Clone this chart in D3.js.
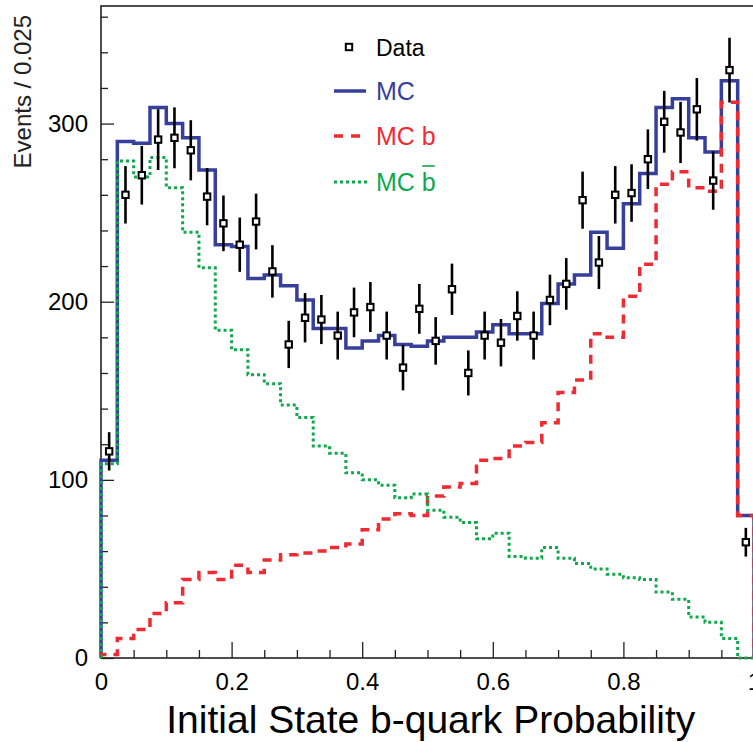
<!DOCTYPE html>
<html>
<head>
<meta charset="utf-8">
<script src="https://cdn.jsdelivr.net/npm/d3@7"></script>
<style>
  body { margin: 0; background: #fff; }
  svg { display: block; font-family: "Liberation Sans", Arial, Helvetica, sans-serif; }
</style>
</head>
<body>
<div id="chart-area"></div>
<script>
// DATA - 40 bins of 0.025 in initial state b-quark probability

const binWidth = 0.025
const binLow = d3.range(40).map(i => +(i * binWidth).toFixed(3))

const dataCounts = [116, 260, 271, 291, 292, 285, 259, 244, 232, 245,
                    217, 176, 191, 190, 181, 194, 197, 181, 163, 196,
                    178, 207, 160, 181, 177, 192, 181, 201, 210, 257,
                    222, 260, 261, 280, 301, 295, 308, 268, 330, 65]

const mcTotal = [111, 290, 289, 309, 300, 292, 274, 232, 231, 213,
                 215, 209, 201, 185, 185, 174, 178, 181, 176, 175,
                 178, 180, 180, 183, 187, 182, 182, 199, 210, 215,
                 239, 230, 255, 272, 309, 314, 292, 284, 324, 80]

const mcB = [2, 11, 16, 25, 31, 44, 48, 44, 52, 48,
             55, 58, 59, 60, 62, 64, 72, 78, 81, 80,
             91, 96, 98, 111, 112, 119, 121, 132, 149, 156,
             182, 180, 203, 221, 266, 273, 264, 262, 312, 80]

const mcBbar = [109, 279, 270, 281, 264, 239, 219, 184, 173, 159,
                154, 142, 135, 119, 115, 104, 100, 97, 90, 92,
                83, 79, 76, 67, 70, 57, 56, 62, 56, 53,
                50, 47, 45, 44, 37, 33, 23, 20, 11, 0]

const xTicks = [0, 0.2, 0.4, 0.6, 0.8, 1]
const xTickLabels = ["0", "0.2", "0.4", "0.6", "0.8", "1"]
const yTicks = [0, 100, 200, 300]

const legendLabels = ["Data", "MC", "MC b", "MC b"]

// CHART AREA

const margin = { left: 101, top: 6 }
const width = 653
const height = 652

const blue = "#373f9c"
const red = "#ee2b33"
const green = "#10a84c"

const svg = d3.select("#chart-area")
  .append("svg")
    .attr("width", 753)
    .attr("height", 742)

const chart = svg.append("g")
    .attr("transform", "translate(" + margin.left + ", " + margin.top + ")")

const x = d3.scaleLinear().domain([0, 1]).range([0, width])
const y = d3.scaleLinear().domain([0, 366]).range([height, 0])

// AXES (ticks point inward, ROOT style)

const xMajor = d3.axisBottom(x)
  .tickValues(xTicks)
  .tickFormat((d, i) => xTickLabels[i])
  .tickSize(-16)
  .tickPadding(15)
  .tickSizeOuter(0)
const xMinor = d3.axisBottom(x)
  .tickValues(d3.range(0.05, 1, 0.05).filter(v => Math.abs(v / 0.2 - Math.round(v / 0.2)) > 1e-6))
  .tickFormat("")
  .tickSize(-8)
  .tickSizeOuter(0)

const yMajor = d3.axisLeft(y)
  .tickValues(yTicks)
  .tickSize(-13)
  .tickPadding(13)
  .tickSizeOuter(0)
const yMinor = d3.axisLeft(y)
  .tickValues(d3.range(20, 361, 20).filter(v => v % 100 !== 0))
  .tickFormat("")
  .tickSize(-7)
  .tickSizeOuter(0)

const gx = chart.append("g").attr("class", "x-axis").attr("transform", "translate(0, " + height + ")")
gx.call(xMinor)
gx.append("g").call(xMajor)
const gy = chart.append("g").attr("class", "y-axis")
gy.call(yMinor)
gy.append("g").call(yMajor)

chart.selectAll(".domain").remove()
chart.selectAll(".tick line").attr("stroke", "#222").attr("stroke-width", 1.3)
chart.selectAll(".tick text")
  .attr("font-size", "24px")
  .attr("font-family", "'Liberation Sans', Arial, sans-serif")
  .attr("fill", "#000")

// frame
chart.append("rect")
  .attr("x", 0).attr("y", 0)
  .attr("width", width).attr("height", height)
  .attr("fill", "none")
  .attr("stroke", "#222")
  .attr("stroke-width", 1.6)

// axis titles
svg.append("text")
  .attr("transform", "translate(31, 15) rotate(-90)")
  .attr("text-anchor", "end")
  .attr("font-size", "24px")
  .attr("fill", "#222")
  .text("Events / 0.025")

svg.append("text")
  .attr("x", margin.left + x(0.505))
  .attr("y", 733)
  .attr("text-anchor", "middle")
  .attr("font-size", "39px")
  .attr("fill", "#000")
  .text("Initial State b-quark Probability")

// HISTOGRAMS

function stepPoints(vals) {
  const pts = [[0, 0]]
  vals.forEach((v, i) => {
    pts.push([binLow[i], v])
    pts.push([binLow[i] + binWidth, v])
  })
  pts.push([1, 0])
  return pts
}

const line = d3.line().x(d => x(d[0])).y(d => y(d[1]))

chart.append("path")
  .attr("d", line(stepPoints(mcTotal)))
  .attr("fill", "none")
  .attr("stroke", blue)
  .attr("stroke-width", 3.5)

chart.append("path")
  .attr("d", line(stepPoints(mcB)))
  .attr("fill", "none")
  .attr("stroke", red)
  .attr("stroke-width", 3.5)
  .attr("stroke-dasharray", "9,7")

chart.append("path")
  .attr("d", line(stepPoints(mcBbar)))
  .attr("fill", "none")
  .attr("stroke", green)
  .attr("stroke-width", 3)
  .attr("stroke-dasharray", "3,3")

// DATA POINTS (Poisson error bars, sqrt(N))

const pts = chart.selectAll("g.pt")
  .data(dataCounts)
  .enter()
  .append("g")
    .attr("class", "pt")
    .attr("transform", (d, i) => "translate(" + x(binLow[i] + binWidth / 2) + ",0)")

pts.append("line")
  .attr("x1", 0).attr("x2", 0)
  .attr("y1", d => y(d + Math.sqrt(d)))
  .attr("y2", d => y(d - Math.sqrt(d)))
  .attr("stroke", "#000")
  .attr("stroke-width", 2.6)

pts.append("rect")
  .attr("x", -3.2)
  .attr("y", d => y(d) - 3.2)
  .attr("width", 6.4).attr("height", 6.4)
  .attr("fill", "#fff")
  .attr("stroke", "#000")
  .attr("stroke-width", 2)

// LEGEND

const legend = svg.append("g").attr("class", "legend")
const rowY = [47, 91, 136, 182]
const textX = 376

legend.append("rect")
  .attr("x", 345.8).attr("y", rowY[0] - 3.2)
  .attr("width", 6.4).attr("height", 6.4)
  .attr("fill", "#fff").attr("stroke", "#000").attr("stroke-width", 2)

legend.append("line")
  .attr("x1", 334).attr("x2", 366).attr("y1", rowY[1]).attr("y2", rowY[1])
  .attr("stroke", blue).attr("stroke-width", 3.5)

legend.append("line")
  .attr("x1", 334).attr("x2", 360).attr("y1", rowY[2]).attr("y2", rowY[2])
  .attr("stroke", red).attr("stroke-width", 3.5).attr("stroke-dasharray", "9,8")

legend.append("line")
  .attr("x1", 334).attr("x2", 367).attr("y1", rowY[3]).attr("y2", rowY[3])
  .attr("stroke", green).attr("stroke-width", 3).attr("stroke-dasharray", "3,3")

const legendColors = ["#000", blue, red, green]
const legendSizes = [23, 25, 25, 25]
const legendTexts = legend.selectAll("text.lab")
  .data(legendLabels)
  .enter()
  .append("text")
    .attr("class", "lab")
    .attr("x", textX)
    .attr("y", (d, i) => rowY[i] + 9)
    .attr("font-size", (d, i) => legendSizes[i] + "px")
    .attr("fill", (d, i) => legendColors[i])
    .text(d => d)

// overline on the last "b" (b-bar)
const bbarNode = legendTexts.nodes()[3]
const bStart = bbarNode.getStartPositionOfChar(3).x
const bWidth = bbarNode.getSubStringLength(3, 1)
legend.append("line")
  .attr("x1", bStart + 0.5).attr("x2", bStart + bWidth - 1)
  .attr("y1", rowY[3] - 16).attr("y2", rowY[3] - 16)
  .attr("stroke", green).attr("stroke-width", 1.6)
</script>
</body>
</html>
